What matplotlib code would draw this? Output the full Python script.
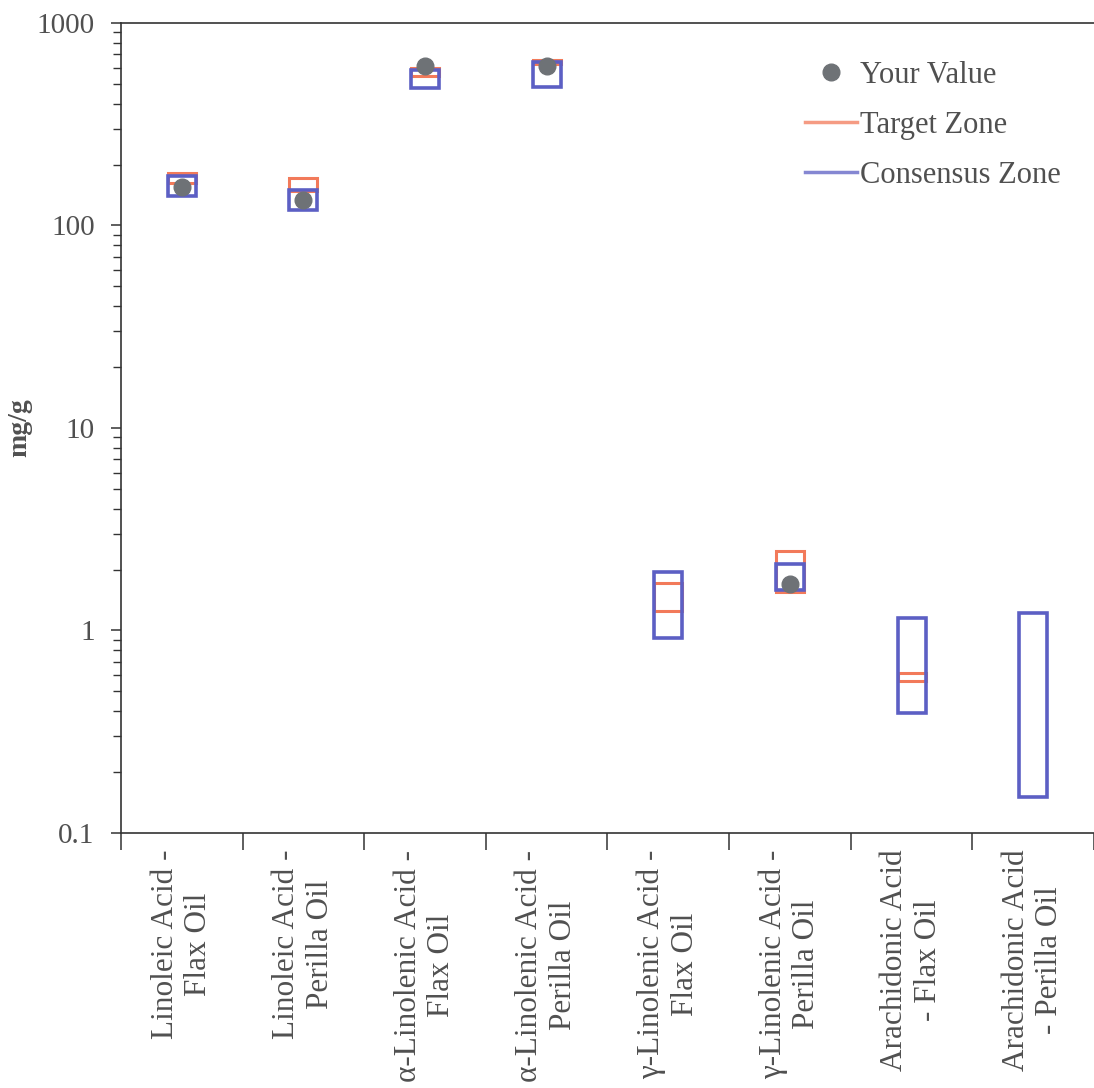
import numpy as np
import matplotlib
matplotlib.use("Agg")
import matplotlib.pyplot as plt
from matplotlib.patches import Rectangle
from matplotlib.lines import Line2D
from matplotlib.ticker import FixedLocator, FixedFormatter, LogLocator, NullFormatter

categories = [
    "Linoleic Acid -\nFlax Oil",
    "Linoleic Acid -\nPerilla Oil",
    "\u03b1-Linolenic Acid -\nFlax Oil",
    "\u03b1-Linolenic Acid -\nPerilla Oil",
    "\u03b3-Linolenic Acid -\nFlax Oil",
    "\u03b3-Linolenic Acid -\nPerilla Oil",
    "Arachidonic Acid\n- Flax Oil",
    "Arachidonic Acid\n- Perilla Oil",
]
your_value = [155, 134, 615, 612, np.nan, 1.70, np.nan, np.nan]
target_low = [162, 148, 550, 628, 1.25, 1.55, 0.56, np.nan]
target_high = [182, 172, 600, 656, 1.72, 2.47, 0.62, np.nan]
consensus_low = [140, 119, 477, 483, 0.92, 1.58, 0.39, 0.151]
consensus_high = [176, 150, 587, 641, 1.95, 2.12, 1.15, 1.22]
yticks = [0.1, 1, 10, 100, 1000]
ytick_labels = ["0.1", "1", "10", "100", "1000"]

plt.rcParams['font.family'] = ['Liberation Serif', 'DejaVu Serif']
text_col = '#505050'
blue = '#5c5fc4'
orange = '#f27a5a'
grey = '#6e7276'

fig = plt.figure(figsize=(10.94, 10.88), dpi=100)
ax = fig.add_axes([0.1106, 0.2344, 0.8894, 0.7445])
ax.set_yscale('log')
ax.set_ylim(0.1, 1000)
ax.set_xlim(-0.5, len(categories) - 0.5)

w = 0.23
for i in range(len(categories)):
    if not np.isnan(target_low[i]):
        ax.add_patch(Rectangle((i - w / 2, target_low[i]), w, target_high[i] - target_low[i],
                               fill=False, edgecolor=orange, lw=2.2, zorder=2))
    if not np.isnan(consensus_low[i]):
        ax.add_patch(Rectangle((i - w / 2, consensus_low[i]), w, consensus_high[i] - consensus_low[i],
                               fill=False, edgecolor=blue, lw=2.6, zorder=3))
x = np.arange(len(categories))
ax.plot(x, your_value, 'o', color=grey, markersize=12, zorder=4, linestyle='none')

# axes styling
ax.spines['right'].set_visible(False)
for s in ['left', 'bottom', 'top']:
    ax.spines[s].set_color('#333333')
    ax.spines[s].set_linewidth(1.2)

ax.yaxis.set_major_locator(FixedLocator(yticks))
ax.yaxis.set_major_formatter(FixedFormatter(ytick_labels))
ax.yaxis.set_minor_locator(LogLocator(base=10, subs=np.arange(2, 10)))
ax.yaxis.set_minor_formatter(NullFormatter())
ax.tick_params(axis='y', which='major', direction='out', length=7, width=1.1,
               labelsize=21, labelcolor=text_col, color='#333333', pad=12)
ax.tick_params(axis='y', which='minor', direction='out', length=6, width=1.0, color='#333333')

ax.set_xticks(np.arange(-0.5, len(categories) + 0.5, 1.0))
ax.set_xticklabels([])
ax.set_xticks(x, minor=True)
ax.set_xticklabels(categories, minor=True, rotation=90, fontsize=22.5, color=text_col,
                   ha='center', va='top', multialignment='center')
ax.tick_params(axis='x', which='major', direction='out', length=12, width=1.1, color='#333333')
ax.tick_params(axis='x', which='minor', length=0, pad=12)

ax.set_ylabel('mg/g', fontsize=20, fontweight='bold', color=text_col, labelpad=3)

handles = [
    Line2D([], [], marker='o', color=grey, linestyle='none', markersize=12),
    Line2D([], [], color=orange, lw=2.5, alpha=0.75),
    Line2D([], [], color=blue, lw=2.5, alpha=0.75),
]
leg = ax.legend(handles, ['Your Value', 'Target Zone', 'Consensus Zone'],
                loc='upper left', bbox_to_anchor=(0.69, 0.968), frameon=False,
                fontsize=22, handlelength=1.7, handletextpad=0.1, labelspacing=0.68,
                borderaxespad=0)
for t in leg.get_texts():
    t.set_color(text_col)

fig.savefig('out.png', dpi=100)
